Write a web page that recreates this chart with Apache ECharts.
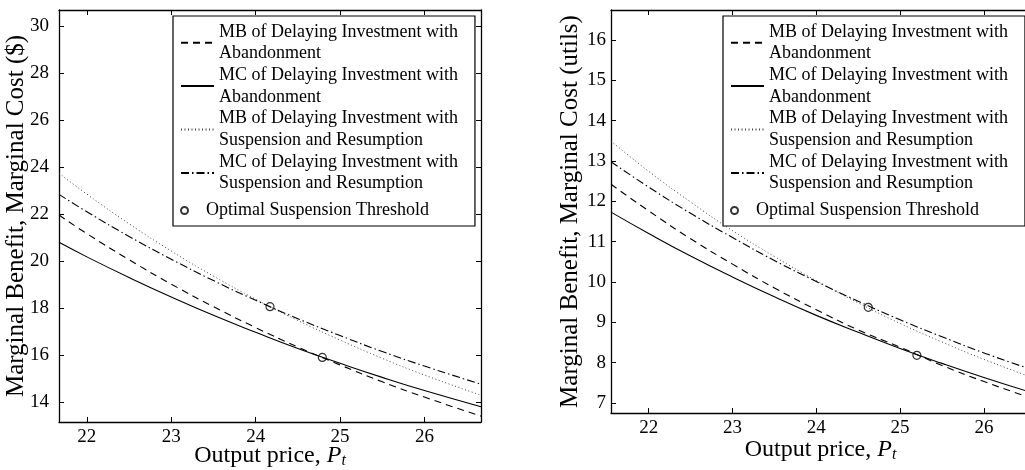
<!DOCTYPE html>
<html><head><meta charset="utf-8">
<script src="https://cdn.jsdelivr.net/npm/echarts@6/dist/echarts.min.js"></script>
<style>html,body{margin:0;padding:0;background:#fff}#c{width:1025px;height:470px}</style>
</head><body><div id="c"></div>
<script>
// ---- data ----
const seriesNames = [
  'MB of Delaying Investment with Abandonment',
  'MC of Delaying Investment with Abandonment',
  'MB of Delaying Investment with Suspension and Resumption',
  'MC of Delaying Investment with Suspension and Resumption',
  'Optimal Suspension Threshold'
];
// left panel ($)
const xLeft   = [21.67, 22, 22.5, 23, 23.5, 24, 24.5, 25, 25.5, 26, 26.67];
const mbAbanL = [21.97, 21.18, 20.07, 19.03, 18.07, 17.18, 16.35, 15.59, 14.87, 14.22, 13.41];
const mcAbanL = [20.81, 20.19, 19.31, 18.48, 17.70, 16.98, 16.29, 15.66, 15.06, 14.50, 13.81];
const mbSuspL = [23.75, 22.86, 21.60, 20.44, 19.37, 18.39, 17.48, 16.65, 15.87, 15.16, 14.30];
const mcSuspL = [22.85, 22.11, 21.06, 20.09, 19.18, 18.34, 17.56, 16.84, 16.16, 15.54, 14.77];
const thrL    = [[24.17, 18.07], [24.79, 15.91]];
// right panel (utils)
const xRight  = [21.55, 22, 22.5, 23, 23.5, 24, 24.5, 25, 25.5, 26, 26.55];
const mbAbanR = [12.42, 11.76, 11.07, 10.44, 9.85, 9.31, 8.81, 8.38, 7.93, 7.53, 7.13];
const mcAbanR = [11.73, 11.20, 10.64, 10.12, 9.63, 9.17, 8.75, 8.35, 7.98, 7.63, 7.27];
const mbSuspR = [13.49, 12.74, 11.98, 11.27, 10.63, 10.03, 9.48, 8.97, 8.51, 8.08, 7.65];
const mcSuspR = [12.98, 12.35, 11.70, 11.10, 10.53, 10.01, 9.52, 9.06, 8.64, 8.24, 7.84];
const thrR    = [[24.62, 9.37], [25.2, 8.18]];
// axis ranges
const xRangeL = [21.67, 26.67], yRangeL = [13.16, 30.7];
const xRangeR = [21.55, 26.55], yRangeR = [6.75, 16.74];
const yTitleL = 'Marginal Benefit, Marginal Cost ($)';
const yTitleR = 'Marginal Benefit, Marginal Cost (utils)';

// ---- chart ----
const FONT = "'Liberation Serif','Times New Roman',serif";
const BLACK = '#000';
const intFmt = v => (Math.abs(v - Math.round(v)) < 1e-6 ? String(Math.round(v)) : '');
const lineStyles = [
  {type: [7, 5], width: 1.1, color: BLACK},
  {type: 'solid', width: 1.1, color: BLACK},
  {type: [1, 2.5], width: 1, color: '#444'},
  {type: [8, 3, 1.5, 3], width: 1.1, color: BLACK}
];

function xAxes(range, gi, labelMargin, nameGap) {
  return [{
    type: 'value', gridIndex: gi, min: range[0], max: range[1], splitNumber: 5,
    position: 'bottom',
    axisLine: {onZero: false, lineStyle: {color: BLACK, width: 1.3}},
    axisTick: {inside: true, length: 5, lineStyle: {color: BLACK}},
    splitLine: {show: false},
    axisLabel: {formatter: intFmt, margin: labelMargin, color: BLACK, fontFamily: FONT, fontSize: 19},
    name: '{n|Output price, }{i|P}{s|t}', nameLocation: 'middle', nameGap: nameGap,
    nameMoveOverlap: false,
    nameTextStyle: {color: BLACK, fontFamily: FONT, fontSize: 24,
      rich: {n: {fontFamily: FONT, fontSize: 24, color: BLACK},
             i: {fontFamily: FONT, fontSize: 24, fontStyle: 'italic', color: BLACK},
             s: {fontFamily: FONT, fontSize: 16, fontStyle: 'italic', color: BLACK, padding: [10, 0, 0, 0]}}}
  }, {
    type: 'value', gridIndex: gi, min: range[0], max: range[1], splitNumber: 5,
    position: 'top',
    axisLine: {onZero: false, lineStyle: {color: BLACK, width: 1.3}},
    axisTick: {inside: true, length: 5, lineStyle: {color: BLACK}},
    splitLine: {show: false}, axisLabel: {show: false}
  }];
}
function yAxes(range, gi, split, labelMargin, title, nameGap) {
  return [{
    type: 'value', gridIndex: gi, min: range[0], max: range[1], splitNumber: split,
    position: 'left',
    axisLine: {onZero: false, lineStyle: {color: BLACK, width: 1.3}},
    axisTick: {inside: true, length: 5, lineStyle: {color: BLACK}},
    splitLine: {show: false},
    axisLabel: {formatter: intFmt, margin: labelMargin, color: BLACK, fontFamily: FONT, fontSize: 19},
    name: title, nameLocation: 'middle', nameGap: nameGap,
    nameMoveOverlap: false,
    nameTextStyle: {color: BLACK, fontFamily: FONT, fontSize: 25}
  }, {
    type: 'value', gridIndex: gi, min: range[0], max: range[1], splitNumber: split,
    position: 'right',
    axisLine: {onZero: false, lineStyle: {color: BLACK, width: 1.3}},
    axisTick: {inside: true, length: 5, lineStyle: {color: BLACK}},
    splitLine: {show: false}, axisLabel: {show: false}
  }];
}

function panelSeries(xs, curves, thr, xi, yi) {
  const out = curves.map((ys, k) => ({
    type: 'line', name: seriesNames[k], xAxisIndex: xi, yAxisIndex: yi,
    data: xs.map((x, i) => [x, ys[i]]),
    symbol: 'none', smooth: true, lineStyle: lineStyles[k],
    itemStyle: {color: lineStyles[k].color}, z: 3, silent: true
  }));
  out.push({
    type: 'scatter', name: seriesNames[4], xAxisIndex: xi, yAxisIndex: yi,
    data: thr, symbol: 'circle', symbolSize: 8,
    itemStyle: {color: 'rgba(255,255,255,0)', borderColor: BLACK, borderWidth: 1.2}, z: 5, silent: true
  });
  return out;
}

function legends(left) {
  const txt = {fontFamily: FONT, fontSize: 18, lineHeight: 21.7, color: BLACK};
  return [{
    orient: 'vertical', left: left, top: 16, data: seriesNames.slice(0, 4),
    itemWidth: 33, itemHeight: 10, itemGap: -10, padding: [0, 17, 26.4, 7],
    borderColor: BLACK, borderWidth: 1.2, borderRadius: 0, backgroundColor: '#fff',
    selectedMode: false, itemStyle: {opacity: 0},
    formatter: n => n.replace('with ', 'with\n'),
    textStyle: Object.assign({padding: [10, 0, 0, 0]}, txt)
  }, {
    orient: 'vertical', left: left + 7, top: 199.6, data: [seriesNames[4]],
    itemWidth: 33, itemHeight: 7, padding: 0, selectedMode: false,
    textStyle: txt
  }];
}

const chart = echarts.init(document.getElementById('c'), null, {renderer: 'canvas'});
chart.setOption({
  animation: false,
  backgroundColor: '#fff',
  grid: [
    {left: 59, top: 10, width: 422, height: 412, containLabel: false, outerBoundsMode: 'none'},
    {left: 611, top: 10, width: 419, height: 403, containLabel: false, outerBoundsMode: 'none'}
  ],
  xAxis: [...xAxes(xRangeL, 0, 6, 21), ...xAxes(xRangeR, 1, 6, 24)],
  yAxis: [...yAxes(yRangeL, 0, 9, 10, yTitleL, 30), ...yAxes(yRangeR, 1, 10, 5, yTitleR, 28)],
  legend: [...legends(173), ...legends(723)],
  series: [
    ...panelSeries(xLeft, [mbAbanL, mcAbanL, mbSuspL, mcSuspL], thrL, 0, 0),
    ...panelSeries(xRight, [mbAbanR, mcAbanR, mbSuspR, mcSuspR], thrR, 2, 2)
  ]
});
</script></body></html>
